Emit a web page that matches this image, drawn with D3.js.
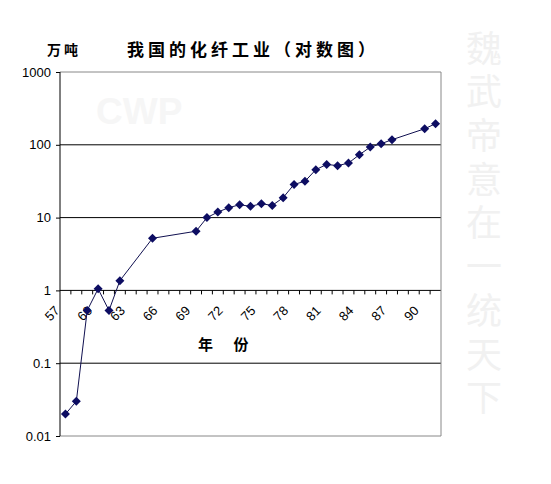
<!DOCTYPE html>
<html>
<head>
<meta charset="utf-8">
<script src="https://cdn.jsdelivr.net/npm/d3@7"></script>
<style>
  body { margin: 0; background: #fff; }
  svg { display: block; }
</style>
</head>
<body>
<script>
// chart values
const years = [57, 58, 59, 60, 61, 62, 65, 69, 70, 71, 72, 73, 74, 75, 76, 77, 78, 79, 80, 81, 82, 83, 84, 85, 86, 87, 90, 91];
const output = [0.02, 0.03, 0.53, 1.05, 0.53, 1.36, 5.2, 6.5, 10, 11.9, 13.7, 15, 14.3, 15.5, 14.7, 18.8, 28.6, 31.5, 45.5, 53.8, 51.7, 56.1, 73, 93, 103.5, 117.5, 166, 195];
const categories = d3.range(57, 92);
const xTickLabels = [57, 60, 63, 66, 69, 72, 75, 78, 81, 84, 87, 90];
const yTicks = [0.01, 0.1, 1, 10, 100, 1000];
const yTickLabels = ["0.01", "0.1", "1", "10", "100", "1000"];
const watermark = "魏武帝意在一统天下";

const width = 551,
    height = 484;
const plotLeft = 60, plotRight = 441, plotTop = 72, plotBottom = 436;

const svg = d3.select("body")
    .append("svg")
    .attr("width", width)
    .attr("height", height);

svg.append("rect").attr("width", width).attr("height", height).attr("fill", "#fff");

// faint watermarks
svg.append("text")
    .attr("x", 96).attr("y", 124)
    .attr("font-family", "Liberation Sans, Arial, sans-serif")
    .attr("font-weight", "bold")
    .attr("font-size", 37)
    .attr("fill", "#f6f6f6")
    .text("CWP");

// vertical watermark, one text running top to bottom
svg.append("text")
    .attr("x", 484)
    .attr("y", 30)
    .attr("writing-mode", "tb")
    .attr("font-family", "Noto Sans CJK SC")
    .attr("font-size", 36)
    .attr("letter-spacing", 7.7)
    .attr("fill", "#f1f1f1")
    .text(watermark);

const xScale = d3.scaleBand()
    .domain(categories)
    .range([plotLeft, plotRight]);

const yScale = d3.scaleLog()
    .domain([0.01, 1000])
    .range([plotBottom, plotTop]);

// gridlines
svg.selectAll("line.grid")
    .data(yTicks)
    .enter()
    .append("line")
    .attr("class", "grid")
    .attr("x1", plotLeft).attr("x2", plotRight)
    .attr("y1", d => yScale(d)).attr("y2", d => yScale(d))
    .attr("stroke", d => (d === 0.01 || d === 1000) ? "#888" : "#000")
    .attr("stroke-width", 1);

// right border
svg.append("line")
    .attr("x1", plotRight).attr("x2", plotRight)
    .attr("y1", plotTop).attr("y2", plotBottom)
    .attr("stroke", "#888");

// y axis
const yAxis = d3.axisLeft(yScale)
    .tickValues(yTicks)
    .tickFormat((d, i) => yTickLabels[i])
    .tickSize(4)
    .tickPadding(5);

const gy = svg.append("g")
    .attr("transform", "translate(" + plotLeft + ",0)")
    .call(yAxis);
gy.select(".domain").attr("stroke", "#000").attr("d", "M0," + plotTop + "V" + plotBottom);
gy.selectAll("text")
    .attr("font-family", "Liberation Sans, Arial, sans-serif")
    .attr("font-size", 13)
    .attr("fill", "#000");

// category axis crossing at 1
const y1 = yScale(1);
svg.selectAll("line.xtick")
    .data(categories.slice(1))
    .enter()
    .append("line")
    .attr("class", "xtick")
    .attr("x1", d => xScale(d)).attr("x2", d => xScale(d))
    .attr("y1", y1).attr("y2", y1 + 4)
    .attr("stroke", "#000");

svg.selectAll("text.xlab")
    .data(xTickLabels)
    .enter()
    .append("text")
    .attr("class", "xlab")
    .attr("transform", d => "translate(" + (xScale(d) + xScale.bandwidth() / 2 - 5) + "," + (y1 + 21) + ") rotate(-45)")
    .attr("text-anchor", "end")
    .attr("font-family", "Liberation Sans, Arial, sans-serif")
    .attr("font-size", 13)
    .attr("fill", "#000")
    .text(d => d);

// series
const cx = d => xScale(d) + xScale.bandwidth() / 2;
const line = d3.line()
    .x((d, i) => cx(years[i]))
    .y(d => yScale(d));

svg.append("path")
    .datum(output)
    .attr("d", line)
    .attr("fill", "none")
    .attr("stroke", "#101050")
    .attr("stroke-width", 1);

svg.selectAll("path.marker")
    .data(output)
    .enter()
    .append("path")
    .attr("class", "marker")
    .attr("d", "M0,-4.5L4.5,0L0,4.5L-4.5,0Z")
    .attr("transform", (d, i) => "translate(" + cx(years[i]) + "," + yScale(d) + ")")
    .attr("fill", "#0d0d62");

// titles
svg.append("text")
    .attr("x", 47).attr("y", 50)
    .attr("dy", "0.35em")
    .attr("font-family", "Noto Sans CJK SC")
    .attr("font-weight", "bold")
    .attr("font-size", 14)
    .attr("letter-spacing", 3)
    .text("万吨");

svg.append("text")
    .attr("x", 127).attr("y", 50)
    .attr("dy", "0.35em")
    .attr("font-family", "Noto Sans CJK SC")
    .attr("font-weight", "bold")
    .attr("font-size", 17)
    .attr("letter-spacing", 4)
    .text("我国的化纤工业（对数图）");

svg.append("text")
    .attr("x", 198).attr("y", 345)
    .attr("dy", "0.35em")
    .attr("font-family", "Noto Sans CJK SC")
    .attr("font-weight", "bold")
    .attr("font-size", 15)
    .attr("xml:space", "preserve")
    .text("年      份");
</script>
</body>
</html>
